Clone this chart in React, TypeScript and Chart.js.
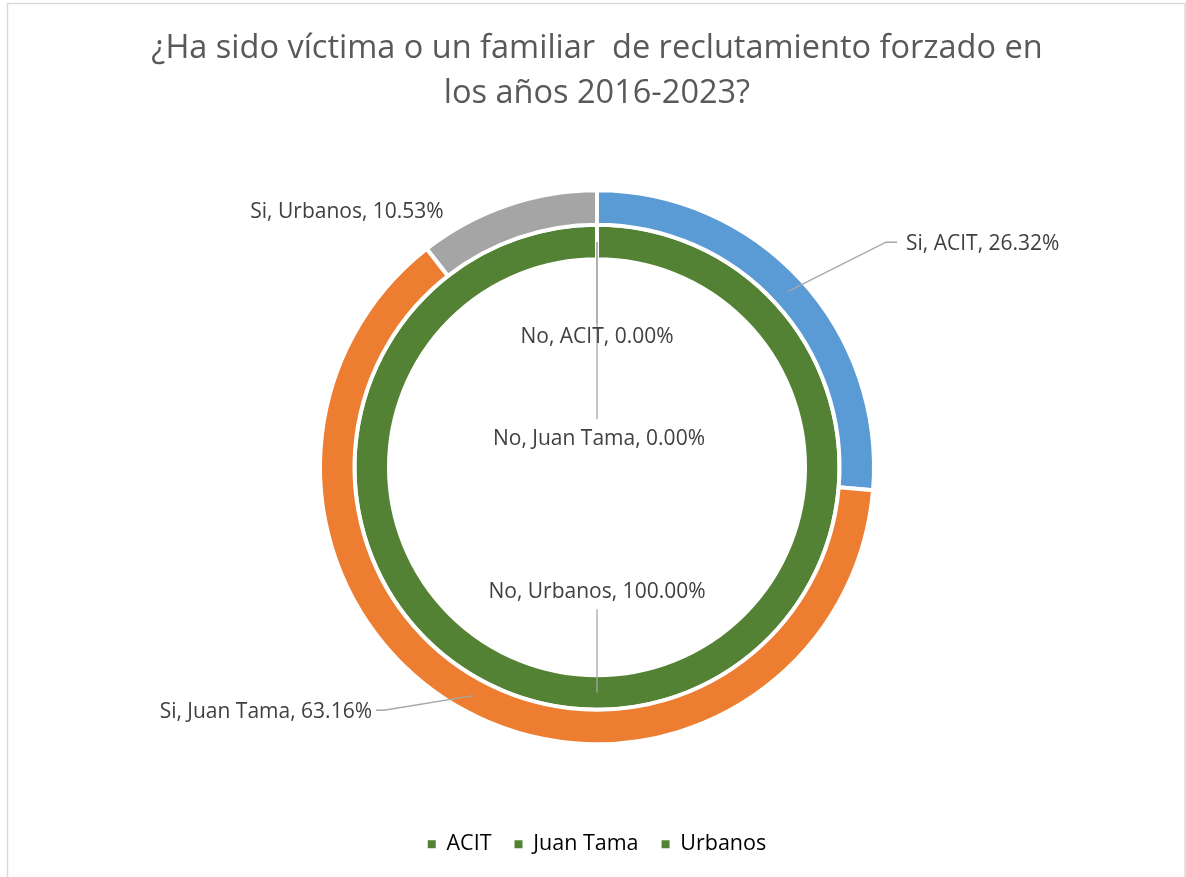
import React, { useEffect, useRef } from "react";
import { Chart, registerables } from "chart.js";
Chart.register(...registerables);

const categories = ["ACIT", "Juan Tama", "Urbanos"];
const seriesNames = ["Si", "No"];
const siValues = [26.32, 63.16, 10.53];
const noValues = [0, 0, 100];
const siColors = ["#5B9BD5", "#ED7D31", "#A5A5A5"];
const noColors = ["#548235", "#548235", "#548235"];
const titleLines = [
  "¿Ha sido víctima o un familiar  de reclutamiento forzado en",
  "los años 2016-2023?",
];

const FONT = "'Open Sans', 'Noto Sans', sans-serif";

// label layout: text anchor relative to chart centre, alignment, leader elbow points (relative to centre)
type LabelLayout = { dx: number; dy: number; align: CanvasTextAlign; leader: number[][] };
const labelLayouts: LabelLayout[][] = [
  [
    { dx: 309, dy: -223, align: "left", leader: [[289, -225], [300, -225]] },
    { dx: -225, dy: 245, align: "right", leader: [[-213, 243], [-221, 243]] },
    { dx: -250, dy: -255, align: "center", leader: [] },
  ],
  [
    { dx: 0, dy: -130, align: "center", leader: [[0, -143]] },
    { dx: 2, dy: -28, align: "center", leader: [[0, -48]] },
    { dx: 0, dy: 125, align: "center", leader: [[0, 142]] },
  ],
];

const frame = {
  id: "frame",
  beforeDraw(chart: any) {
    const ctx = chart.ctx;
    ctx.save();
    ctx.fillStyle = "#FFFFFF";
    ctx.fillRect(0, 0, chart.width, chart.height);
    ctx.strokeStyle = "#D9D9D9";
    ctx.lineWidth = 1.5;
    ctx.strokeRect(7.5, 3.5, chart.width - 8.5, chart.height + 10);
    ctx.restore();
  },
};

const dataLabels = {
  id: "dataLabels",
  afterDatasetsDraw(chart: any) {
    const ctx = chart.ctx;
    ctx.save();
    chart.data.datasets.forEach((ds: any, di: number) => {
      const meta = chart.getDatasetMeta(di);
      meta.data.forEach((arc: any, i: number) => {
        const p = arc.getProps(["x", "y", "startAngle", "endAngle", "innerRadius", "outerRadius"], true);
        const mid = (p.startAngle + p.endAngle) / 2;
        const r = (p.innerRadius + p.outerRadius) / 2;
        const ax = p.x + Math.cos(mid) * r;
        const ay = p.y + Math.sin(mid) * r;
        const lay = labelLayouts[di][i];
        if (lay.leader.length) {
          ctx.beginPath();
          ctx.strokeStyle = "#A6A6A6";
          ctx.lineWidth = 1.3;
          ctx.moveTo(ax, ay);
          lay.leader.forEach((pt) => ctx.lineTo(p.x + pt[0], p.y + pt[1]));
          ctx.stroke();
        }
      });
    });
    chart.data.datasets.forEach((ds: any, di: number) => {
      const meta = chart.getDatasetMeta(di);
      meta.data.forEach((arc: any, i: number) => {
        const p = arc.getProps(["x", "y"], true);
        const lay = labelLayouts[di][i];
        const txt = `${ds.label}, ${categories[i]}, ${Number(ds.data[i]).toFixed(2)}%`;
        ctx.font = `21px ${FONT}`;
        ctx.fillStyle = "#404040";
        ctx.textAlign = lay.align;
        ctx.textBaseline = "middle";
        ctx.fillText(txt, p.x + lay.dx, p.y + lay.dy);
      });
    });
    ctx.restore();
  },
};

export default function App() {
  const ref = useRef<HTMLCanvasElement | null>(null);
  useEffect(() => {
    document.body.style.margin = "0";
    if (!ref.current) return;
    const chart = new Chart(ref.current, {
      type: "doughnut",
      data: {
        labels: categories,
        datasets: [
          { label: seriesNames[0], data: siValues, backgroundColor: siColors, borderColor: "#FFFFFF", borderWidth: 4 },
          { label: seriesNames[1], data: noValues, backgroundColor: noColors, borderColor: "#FFFFFF", borderWidth: 4 },
        ],
      },
      options: {
        animation: false,
        responsive: true,
        maintainAspectRatio: false,
        radius: 277,
        cutout: "75.1%",
        layout: { padding: { left: 8, right: 0, top: 0, bottom: 12 } },
        plugins: {
          tooltip: { enabled: false },
          title: {
            display: true,
            text: titleLines,
            color: "#595959",
            font: { family: FONT, size: 32.5, weight: "normal", lineHeight: "45px" },
            padding: { top: 26, bottom: 8 },
          },
          legend: {
            position: "bottom",
            labels: {
              color: "#595959",
              font: { family: FONT, size: 21.5 },
              boxWidth: 8,
              boxHeight: 8,
              padding: 23,
              generateLabels: () =>
                categories.map((c, i) => ({
                  text: c,
                  fillStyle: noColors[i],
                  strokeStyle: noColors[i],
                  lineWidth: 0,
                  hidden: false,
                  index: i,
                })),
            },
          },
        },
      },
      plugins: [frame, dataLabels],
    });
    return () => chart.destroy();
  }, []);
  return (
    <div style={{ width: 1186, height: 877, position: "relative" }}>
      <canvas ref={ref} />
    </div>
  );
}
